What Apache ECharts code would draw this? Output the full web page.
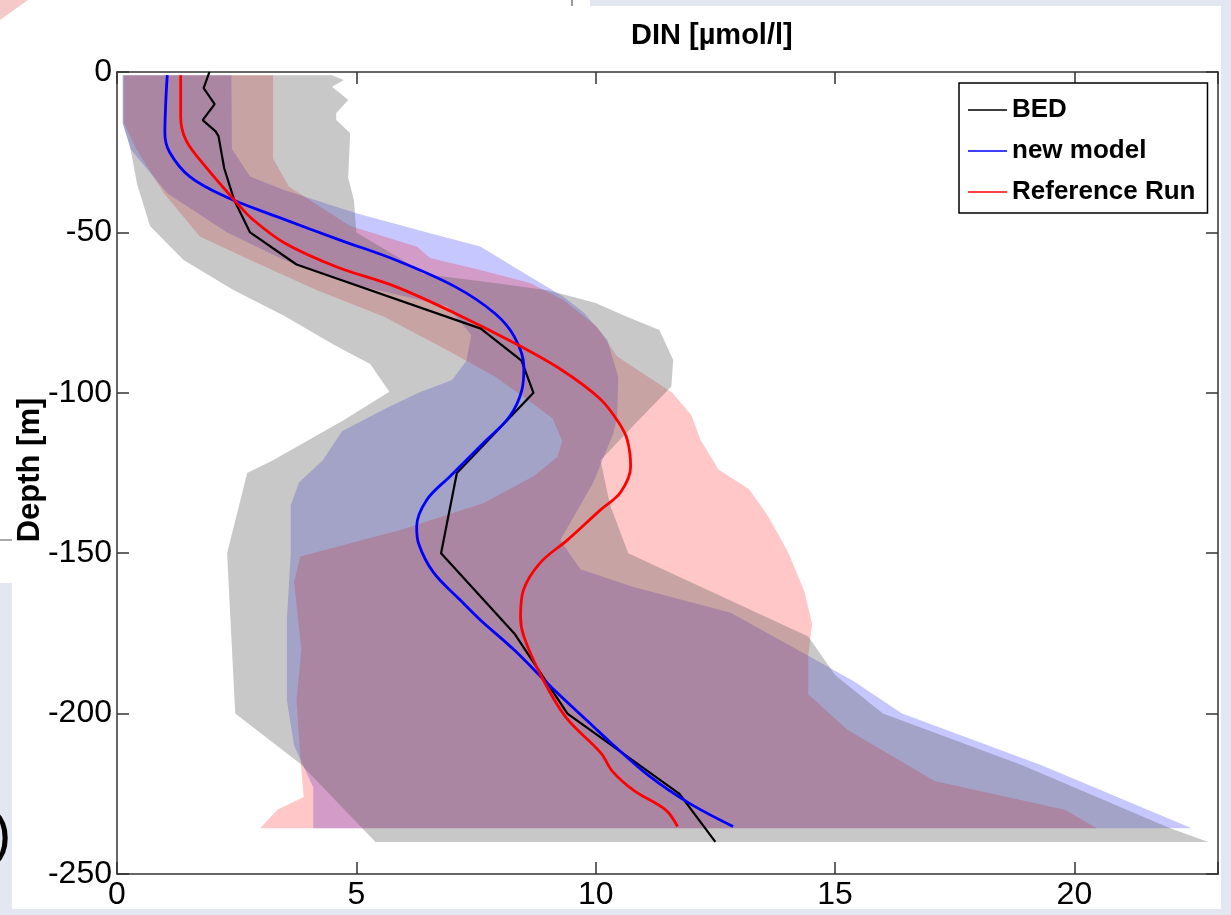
<!DOCTYPE html>
<html>
<head>
<meta charset="utf-8">
<script src="https://cdn.jsdelivr.net/npm/echarts@6/dist/echarts.min.js"></script>
<style>
html,body{margin:0;padding:0;background:#ffffff;}
#chart{width:1231px;height:915px;}
</style>
</head>
<body>
<div id="chart"></div>
<script>
// ---- axis ticks ----
const xTicks = [0, 5, 10, 15, 20];
const yTicks = [0, -50, -100, -150, -200, -250];

// ---- lines: [depth m, DIN µmol/l] ----
const bedLine = [[0,1.93],[-5,1.81],[-10,2.04],[-15,1.79],[-18.5,2.06],[-20,2.12],[-30,2.24],[-40,2.45],[-50,2.78],[-60,3.75],[-80,7.6],[-90,8.45],[-100,8.7],[-125,7.1],[-150,6.77],[-175,8.3],[-200,9.41],[-225,11.75],[-240,12.5]];
const newModelLine = [[-1,1.05],[-9,1.02],[-19,1.0],[-25,1.1],[-32.6,1.52],[-38.9,2.27],[-45.1,3.34],[-52.4,4.66],[-58.6,5.82],[-66.9,7.06],[-75.2,7.89],[-82.5,8.30],[-91.9,8.50],[-99,8.46],[-107.4,8.2],[-115.7,7.65],[-126,6.96],[-133.4,6.47],[-141.7,6.26],[-147,6.3],[-156,6.61],[-164.6,7.17],[-170.8,7.59],[-180.2,8.30],[-192.6,9.13],[-204,9.95],[-209,10.31],[-219.6,11.13],[-228,11.96],[-235.2,12.87]];
const refRunLine = [[-1,1.33],[-13.9,1.33],[-21.2,1.44],[-29.5,1.85],[-40.9,2.51],[-46,2.84],[-53.3,3.50],[-60.7,4.58],[-66.9,5.82],[-75.2,7.06],[-84.5,8.30],[-92.9,9.29],[-102,10.1],[-109.5,10.49],[-114.7,10.66],[-123,10.73],[-131,10.52],[-136.5,10.1],[-146,9.4],[-153,8.84],[-161.5,8.49],[-169.8,8.43],[-176,8.5],[-188.5,8.87],[-201,9.37],[-212.3,10.11],[-218,10.35],[-224,10.8],[-230,11.46],[-235.2,11.71]];

// ---- envelopes: [depth, min] and [depth, max] ----
const bedLow = [[-1,0.12],[-16,0.12],[-23,0.27],[-35,0.42],[-48,0.69],[-58.6,1.39],[-68,2.44],[-76,3.49],[-85,4.53],[-91,5.29],[-99.7,5.69],[-108.5,4.74],[-121,3.26],[-125,2.72],[-150,2.30],[-200,2.47],[-215.6,3.83],[-240,5.40]];
const bedHigh = [[-1,4.49],[-2.5,4.74],[-4.6,4.49],[-6.6,4.66],[-8.7,4.83],[-12.8,4.58],[-15,4.58],[-19,4.87],[-33,4.83],[-40,4.95],[-50,5.0],[-58,5.9],[-63,6.4],[-66,8.0],[-68,9.0],[-72,10.0],[-76,10.6],[-80.4,11.33],[-89.8,11.62],[-98,11.58],[-110,10.8],[-121,10.1],[-135,10.3],[-150,10.68],[-176,14.44],[-188,15.0],[-200,16.0],[-216,18.9],[-235.7,22.0],[-240,22.8]];
const newLow = [[-1,0.12],[-16,0.12],[-24,0.28],[-37.8,1.05],[-50,2.3],[-58.6,3.49],[-66,4.87],[-73,6.9],[-82,7.4],[-90,7.3],[-96,7.0],[-100,6.3],[-105,5.6],[-112,4.7],[-121,4.3],[-128,3.8],[-135,3.63],[-150,3.63],[-170,3.55],[-196,3.55],[-210,3.7],[-223,4.1],[-235.7,4.1]];
const newHigh = [[-1,2.39],[-24,2.4],[-32.6,2.78],[-36.8,3.49],[-44,5.0],[-50.3,6.54],[-54.4,7.59],[-63.8,8.63],[-70,9.32],[-75,9.75],[-83.5,10.24],[-95,10.47],[-107.5,10.45],[-112.6,10.37],[-128,9.95],[-146,9.26],[-155,9.68],[-160.5,10.79],[-168.6,12.82],[-182,14.44],[-190,15.4],[-200,16.4],[-216,19.3],[-235.7,22.45]];
const refLow = [[-1,0.15],[-16,0.15],[-24,0.4],[-37.8,0.98],[-51.3,1.73],[-58.6,2.78],[-68,4.18],[-76.3,5.58],[-86.7,6.9],[-95,7.9],[-102,8.56],[-108,9.1],[-115,9.3],[-120,9.2],[-126,8.7],[-134.4,7.65],[-142.8,5.92],[-151,3.83],[-159,3.7],[-180,3.85],[-196,3.75],[-214,3.83],[-226,3.9],[-230,3.35],[-235.7,2.99]];
const refHigh = [[-1,3.26],[-27,3.26],[-35.7,3.59],[-48,4.87],[-54.5,6.27],[-58,6.54],[-61.7,7.59],[-65.8,8.63],[-71,9.32],[-79.4,10.03],[-88.7,10.45],[-100,11.6],[-107,12.0],[-114.7,12.19],[-124,12.57],[-130,13.2],[-138.6,13.61],[-150,14.03],[-162,14.36],[-172,14.52],[-182,14.44],[-194,14.44],[-205,15.26],[-221,17.08],[-230,19.8],[-235.7,20.47]];

const seriesNames = ['BED', 'new model', 'Reference Run'];

const FONT = '"Liberation Sans",Arial,Helvetica,sans-serif';

function toXY(arr){ return arr.map(p => [p[1], p[0]]); }

function envelope(name, low, high, fill){
  return {
    type: 'custom', name: name, silent: true, clip: true,
    data: [[0, 0]],
    renderItem: function(params, api){
      const pts = low.map(p => api.coord([p[1], p[0]]))
        .concat(high.slice().reverse().map(p => api.coord([p[1], p[0]])));
      return { type: 'polygon', shape: { points: pts }, style: { fill: fill } };
    }
  };
}

function lineSeries(name, arr, color, width, smooth){
  return {
    type: 'line', name: name, data: toXY(arr), color: color,
    symbol: 'none', smooth: smooth, z: 5,
    lineStyle: { color: color, width: width }
  };
}

const axisLineStyle = { color: '#333', width: 1.5 };
const chart = echarts.init(document.getElementById('chart'), null, { renderer: 'canvas' });
chart.setOption({
  animation: false,
  backgroundColor: '#ffffff',
  title: {
    text: 'DIN [µmol/l]', left: 626, top: 16,
    textStyle: { fontFamily: FONT, fontWeight: 'bold', fontSize: 29, color: '#000' }
  },
  grid: { left: 117, right: 13, top: 72, bottom: 41, containLabel: false },
  legend: {
    data: seriesNames, orient: 'vertical', left: 959, top: 83,
    icon: 'rect', itemWidth: 39, itemHeight: 1.5, itemGap: 15,
    padding: [14, 12, 8, 9], borderColor: '#000', borderWidth: 1.5, backgroundColor: '#fff',
    textStyle: { fontFamily: FONT, fontWeight: 'bold', fontSize: 26, color: '#000' }
  },
  xAxis: [{
    type: 'value', min: 0, max: 23, interval: 5, position: 'bottom',
    axisLine: { show: true, onZero: false, lineStyle: axisLineStyle },
    axisTick: { show: true, inside: true, length: 12, lineStyle: axisLineStyle },
    axisLabel: { fontFamily: FONT, fontSize: 32, color: '#000', margin: 5,
      formatter: v => xTicks.indexOf(v) >= 0 ? String(v) : '' },
    splitLine: { show: false }
  }, {
    type: 'value', min: 0, max: 23, interval: 5, position: 'top',
    axisLine: { show: true, onZero: false, lineStyle: axisLineStyle },
    axisTick: { show: true, inside: true, length: 12, lineStyle: axisLineStyle },
    axisLabel: { show: false }, splitLine: { show: false }
  }],
  yAxis: [{
    type: 'value', min: -250, max: 0, interval: 50, position: 'left',
    axisLine: { show: true, onZero: false, lineStyle: axisLineStyle },
    axisTick: { show: true, inside: true, length: 12, lineStyle: axisLineStyle },
    axisLabel: { fontFamily: FONT, fontSize: 32, color: '#000', margin: 5,
      formatter: v => yTicks.indexOf(v) >= 0 ? String(v) : '' },
    splitLine: { show: false }
  }, {
    type: 'value', min: -250, max: 0, interval: 50, position: 'right',
    axisLine: { show: true, onZero: false, lineStyle: axisLineStyle },
    axisTick: { show: true, inside: true, length: 12, lineStyle: axisLineStyle },
    axisLabel: { show: false }, splitLine: { show: false }
  }],
  series: [
    envelope('new model range', newLow, newHigh, 'rgba(0,0,255,0.22)'),
    envelope('Reference Run range', refLow, refHigh, 'rgba(255,0,0,0.22)'),
    envelope('BED range', bedLow, bedHigh, 'rgba(93,93,93,0.34)'),
    lineSeries('BED', bedLine, '#000000', 2.2, false),
    lineSeries('new model', newModelLine, '#0000ff', 2.8, 0.35),
    lineSeries('Reference Run', refRunLine, '#ff0000', 2.8, 0.35)
  ],
  graphic: [
    { type: 'rect', shape: { x: 590, y: 0, width: 641, height: 6 }, style: { fill: '#e3e7f1' }, silent: true },
    { type: 'rect', shape: { x: 1221, y: 0, width: 10, height: 915 }, style: { fill: '#e3e7f1' }, silent: true },
    { type: 'rect', shape: { x: 0, y: 909, width: 1231, height: 6 }, style: { fill: '#e3e7f1' }, silent: true },
    { type: 'rect', shape: { x: 0, y: 583, width: 12, height: 332 }, style: { fill: '#e3e7f1' }, silent: true },
    { type: 'line', shape: { x1: 572, y1: 0, x2: 572, y2: 6 }, style: { stroke: '#333', lineWidth: 1 }, silent: true },
    { type: 'line', shape: { x1: 0, y1: 540, x2: 12, y2: 540 }, style: { stroke: '#555', lineWidth: 1 }, silent: true },
    { type: 'polygon', shape: { points: [[0,0],[28,0],[0,20]] }, style: { fill: '#f6c9c9' }, silent: true },
    { type: 'text', left: -8, top: 808, style: { text: ')', font: '58px "Liberation Sans", Arial', fill: '#000' }, silent: true },
    { type: 'text', x: 30, y: 470, rotation: Math.PI / 2, silent: true,
      style: { text: 'Depth [m]', font: 'bold 31px "Liberation Sans", Arial', fill: '#000', align: 'center', verticalAlign: 'middle' } }
  ]
});
</script>
</body>
</html>
